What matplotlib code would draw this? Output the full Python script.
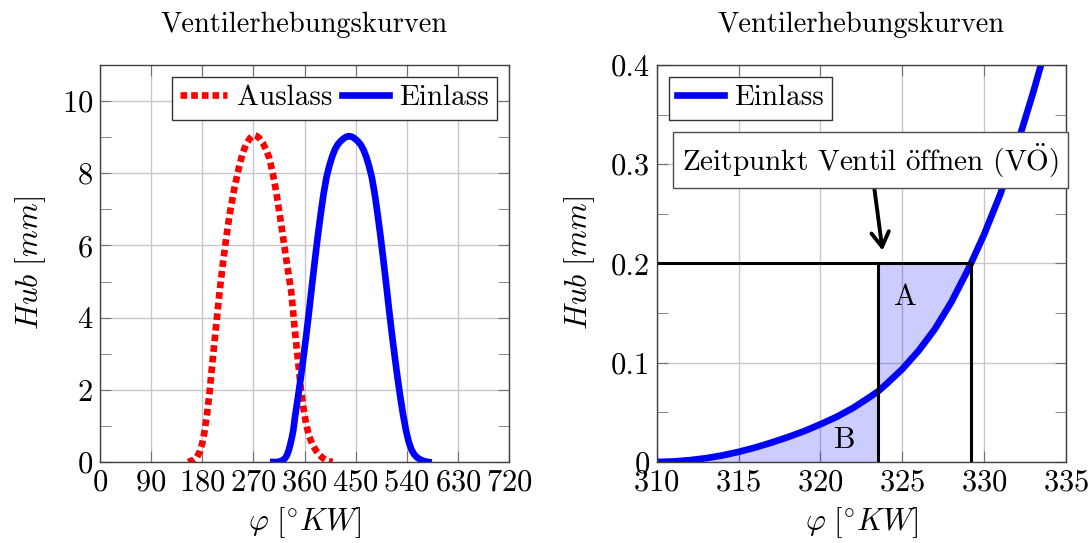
import numpy as np
import matplotlib
matplotlib.use("Agg")
import matplotlib.pyplot as plt
from matplotlib.ticker import MultipleLocator

plt.rcParams['font.family'] = ['cmr10', 'DejaVu Serif']
plt.rcParams['mathtext.fontset'] = 'cm'
plt.rcParams['axes.unicode_minus'] = False
plt.rcParams['axes.formatter.use_mathtext'] = True

# valve lift curves (crank angle deg, lift mm)
auslass_phi = [155, 160, 165, 170, 175, 180, 184, 188.5, 193, 198.5, 204.5, 210.5, 216, 222,
               228, 236.5, 245.5, 251, 257, 264, 268, 272, 276, 280, 286.5, 292, 298, 304,
               310, 319, 327.5, 336.5, 342, 348, 354, 358, 363, 368, 374, 380, 386, 392,
               400, 409]
auslass_hub = [0, 0.03, 0.06, 0.12, 0.27, 0.52, 0.85, 1.35, 1.96, 2.88, 3.8, 4.73, 5.47, 6.2,
               6.85, 7.59, 8.23, 8.55, 8.8, 8.97, 9.03, 9.05, 9.03, 8.98, 8.84, 8.66, 8.42,
               8.0, 7.5, 6.57, 5.65, 4.73, 3.8, 2.88, 1.96, 1.5, 1.03, 0.72, 0.48, 0.32,
               0.2, 0.11, 0.04, 0]

einlass_phi = [305, 310, 311, 312, 313, 314, 315, 316, 317, 318, 319, 320, 321, 322, 323,
               323.5, 324, 325, 326, 327, 328, 329, 329.2, 330, 331, 332, 333, 334, 335,
               336, 338, 340, 343.5, 348.5, 353.5, 358.5, 363.5, 368.5, 373.5, 378.5,
               383.5, 388.5, 393.5, 398.5, 403.5, 408.5, 413.5, 418.5, 423.5, 428.5, 433.5,
               438.5, 443.5, 448.5, 453.5, 458.5, 463.5, 468.5, 473.5, 478.5, 483.5, 488.5,
               493.5, 498.5, 503.5, 508.5, 513.5, 518.5, 523.5, 528.5, 533.5, 538.5, 543.5,
               548.5, 553.5, 558.5, 563.5, 568.5, 573.5, 578]
einlass_hub = [0, 0, 0.0005, 0.0018, 0.0038, 0.0066, 0.0102, 0.0145, 0.0195, 0.025, 0.031,
               0.038, 0.0455, 0.0545, 0.0652, 0.0708, 0.078, 0.0935, 0.112, 0.134, 0.161,
               0.193, 0.2, 0.229, 0.27, 0.318, 0.372, 0.43, 0.495, 0.565, 0.70, 0.86, 1.28,
               1.8, 2.355, 2.955, 3.58, 4.255, 4.955, 5.63, 6.28, 6.88, 7.43, 7.88, 8.2,
               8.46, 8.66, 8.80, 8.89, 8.96, 9.01, 9.03, 9.01, 8.96, 8.89, 8.80, 8.66, 8.46,
               8.2, 7.88, 7.43, 6.88, 6.28, 5.63, 4.955, 4.255, 3.58, 2.955, 2.355, 1.805,
               1.305, 0.88, 0.55, 0.33, 0.2, 0.12, 0.07, 0.035, 0.012, 0]

# valve opening window in the zoom
vo_start = 323.5
vo_end = 329.2
vo_hub = 0.2

title = 'Ventilerhebungskurven'
fs = 22
fs_leg = 21

fig = plt.figure(figsize=(10.91, 5.43), dpi=100, facecolor='w')
ax1 = fig.add_axes([0.0917, 0.1492, 0.3749, 0.7311])
ax2 = fig.add_axes([0.602, 0.1492, 0.3749, 0.7311])


def style(ax):
    ax.grid(True, which='major', color='0.78', lw=1)
    ax.set_axisbelow(True)
    ax.tick_params(which='both', direction='in', top=True, right=True,
                   labelsize=fs, color='0.45', pad=5)
    ax.tick_params(which='major', length=8)
    ax.tick_params(which='minor', length=8)
    for s in ax.spines.values():
        s.set_color('0.25')
        s.set_linewidth(1)
    ax.set_xlabel(r'$\varphi\ [^{\circ}KW]$', fontsize=fs, labelpad=6)
    ax.set_ylabel(r'$Hub\ [mm]$', fontsize=fs, labelpad=10)
    ax.set_title(title, fontsize=20.5, pad=24)


# left: full cycle
ax1.plot(auslass_phi, auslass_hub, color='red', lw=4.8, ls=(0, (1, 0.6)),
         dash_capstyle='butt', label='Auslass')
ax1.plot(einlass_phi, einlass_hub, color='blue', lw=4.8, label='Einlass')
ax1.set_xlim(0, 720)
ax1.set_ylim(0, 11)
ax1.set_xticks(range(0, 721, 90))
ax1.set_yticks(range(0, 11, 2))
ax1.yaxis.set_minor_locator(MultipleLocator(1))
style(ax1)
leg1 = ax1.legend(loc='upper right', ncol=2, fontsize=fs_leg, fancybox=False,
                  edgecolor='0.2', framealpha=1, handlelength=1.6,
                  columnspacing=0.35, handletextpad=0.35, borderpad=0.28,
                  borderaxespad=0, bbox_to_anchor=(0.971, 0.97))
leg1.get_frame().set_linewidth(1)

# right: zoom into opening
phi = np.array(einlass_phi)
hub = np.array(einlass_hub)
ax2.fill_between(phi, 0, hub, where=(phi <= vo_start), color='blue', alpha=0.2, lw=0)
ax2.fill_between(phi, hub, vo_hub, where=(phi >= vo_start) & (phi <= vo_end),
                 color='blue', alpha=0.2, lw=0)
ax2.plot(phi, hub, color='blue', lw=4.8, label='Einlass')
ax2.plot([310, vo_end], [vo_hub, vo_hub], color='black', lw=2.2)
ax2.plot([vo_start, vo_start], [0, vo_hub], color='black', lw=2.2)
ax2.plot([vo_end, vo_end], [0, vo_hub], color='black', lw=2.2)
ax2.text(325.2, 0.166, 'A', fontsize=fs, ha='center', va='center')
ax2.text(321.5, 0.022, 'B', fontsize=fs, ha='center', va='center')
ax2.set_xlim(310, 335)
ax2.set_ylim(0, 0.4)
ax2.set_xticks(range(310, 336, 5))
ax2.set_yticks([0, 0.1, 0.2, 0.3, 0.4])
ax2.set_yticklabels(['0', '0.1', '0.2', '0.3', '0.4'])
ax2.yaxis.set_minor_locator(MultipleLocator(0.05))
style(ax2)
leg2 = ax2.legend(loc='upper left', fontsize=fs_leg, fancybox=False, edgecolor='0.2',
                  framealpha=1, handlelength=1.6, handletextpad=0.35, borderpad=0.28,
                  borderaxespad=0, bbox_to_anchor=(0.03, 0.97))
leg2.get_frame().set_linewidth(1)
note = 'Zeitpunkt Ventil ' + r'$\ddot{\mathrm{o}}$' + 'ffnen (V' + r'$\ddot{\mathrm{O}}$' + ')'
ax2.annotate(note, xy=(323.8, 0.213), xytext=(323.07, 0.304),
             fontsize=21, ha='center', va='center', annotation_clip=False,
             bbox=dict(boxstyle='square,pad=0.3', fc='white', ec='0.3', lw=1),
             arrowprops=dict(arrowstyle='->,head_length=0.5,head_width=0.3', lw=2.8,
                             color='black', shrinkA=0, shrinkB=0))

fig.savefig('out.png', dpi=100)
